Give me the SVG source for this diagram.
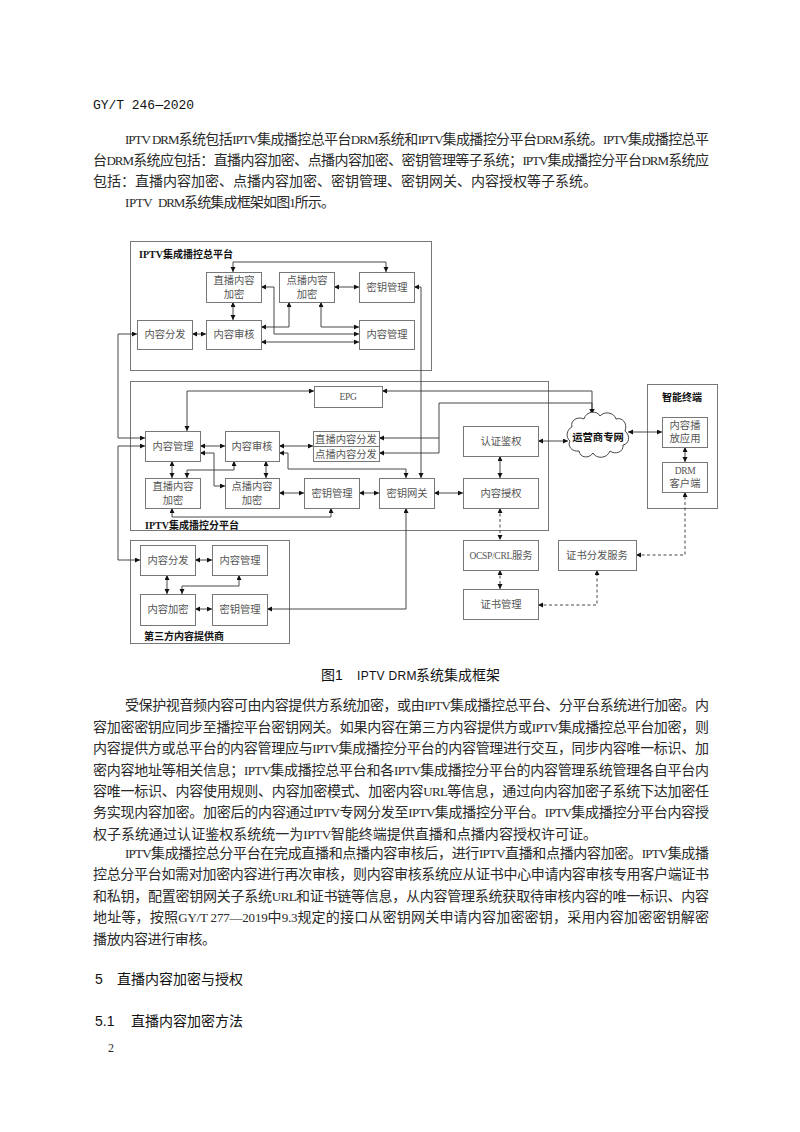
<svg xmlns="http://www.w3.org/2000/svg" width="800" height="1132" viewBox="0 0 800 1132">
<style>
text{font-family:"Liberation Serif","Noto Sans CJK SC",serif;fill:#222}
.b{font-size:14px;fill:#2a2a2a}
.m{font-size:13px;letter-spacing:-.4px}
.h{font-family:"Liberation Sans","Noto Sans CJK SC",sans-serif;font-size:14px;fill:#111}
.n{font-size:10.300px;text-anchor:middle;fill:#555}
.k{font-size:9.500px;letter-spacing:-.3px}
.l{font-size:10px;font-weight:700;fill:#111}
rect{fill:#fff;stroke:#777;stroke-width:1}
.c{fill:none;stroke:#333;stroke-width:.9;marker-start:url(#a);marker-end:url(#a)}
.d{stroke-dasharray:3 2.5}
.t{fill:none;stroke:#333;stroke-width:.9}
.o{marker-start:none}
.e{marker-end:none}
</style>
<defs>
<marker id="a" markerUnits="userSpaceOnUse" markerWidth="6" markerHeight="6" refX="5" refY="2.5" orient="auto-start-reverse"><path d="M0,0L5,2.500L0,5Z" fill="#111"/></marker>
</defs>
<rect width="800" height="1132" style="fill:#fff;stroke:none"/>
<g id="page-text">
<text x="93" y="109" textLength="101" style="font-family:'Liberation Mono','Noto Sans CJK SC',monospace;font-size:13px;fill:#111">GY/T 246—2020</text>
<text class="b" x="125" y="144" textLength="584"><tspan class="m">IPTV DRM</tspan>系统包括<tspan class="m">IPTV</tspan>集成播控总平台<tspan class="m">DRM</tspan>系统和<tspan class="m">IPTV</tspan>集成播控分平台<tspan class="m">DRM</tspan>系统。<tspan class="m">IPTV</tspan>集成播控总平</text>
<text class="b" x="93" y="165" textLength="616">台<tspan class="m">DRM</tspan>系统应包括：直播内容加密、点播内容加密、密钥管理等子系统；<tspan class="m">IPTV</tspan>集成播控分平台<tspan class="m">DRM</tspan>系统应</text>
<text class="b" x="93" y="186" textLength="504">包括：直播内容加密、点播内容加密、密钥管理、密钥网关、内容授权等子系统。</text>
<text class="b" x="125" y="207"><tspan class="m">IPTV</tspan></text>
<text class="b" x="158" y="207" textLength="177"><tspan class="m">DRM</tspan>系统集成框架如图<tspan class="m">1</tspan>所示。</text>
<text class="h" x="321" y="680">图1</text>
<text class="h" x="357" y="680" style="font-size:12px;letter-spacing:.3px">IPTV DRM</text>
<text class="h" x="416" y="680" textLength="84">系统集成框架</text>
<text class="b" x="125" y="710" textLength="584">受保护视音频内容可由内容提供方系统加密，或由<tspan class="m">IPTV</tspan>集成播控总平台、分平台系统进行加密。内</text>
<text class="b" x="93" y="732" textLength="616">容加密密钥应同步至播控平台密钥网关。如果内容在第三方内容提供方或<tspan class="m">IPTV</tspan>集成播控总平台加密，则</text>
<text class="b" x="93" y="753" textLength="616">内容提供方或总平台的内容管理应与<tspan class="m">IPTV</tspan>集成播控分平台的内容管理进行交互，同步内容唯一标识、加</text>
<text class="b" x="93" y="775" textLength="616">密内容地址等相关信息；<tspan class="m">IPTV</tspan>集成播控总平台和各<tspan class="m">IPTV</tspan>集成播控分平台的内容管理系统管理各自平台内</text>
<text class="b" x="93" y="796" textLength="616">容唯一标识、内容使用规则、内容加密模式、加密内容<tspan class="m">URL</tspan>等信息，通过向内容加密子系统下达加密任</text>
<text class="b" x="93" y="817" textLength="616">务实现内容加密。加密后的内容通过<tspan class="m">IPTV</tspan>专网分发至<tspan class="m">IPTV</tspan>集成播控分平台。<tspan class="m">IPTV</tspan>集成播控分平台内容授</text>
<text class="b" x="93" y="839" textLength="504">权子系统通过认证鉴权系统统一为<tspan class="m">IPTV</tspan>智能终端提供直播和点播内容授权许可证。</text>
<text class="b" x="125" y="858" textLength="584"><tspan class="m">IPTV</tspan>集成播控总分平台在完成直播和点播内容审核后，进行<tspan class="m">IPTV</tspan>直播和点播内容加密。<tspan class="m">IPTV</tspan>集成播</text>
<text class="b" x="93" y="879" textLength="616">控总分平台如需对加密内容进行再次审核，则内容审核系统应从证书中心申请内容审核专用客户端证书</text>
<text class="b" x="93" y="901" textLength="616">和私钥，配置密钥网关子系统<tspan class="m">URL</tspan>和证书链等信息，从内容管理系统获取待审核内容的唯一标识、内容</text>
<text class="b" x="93" y="922" textLength="616">地址等，按照<tspan class="m">GY/T 277—2019</tspan>中<tspan class="m">9.3</tspan>规定的接口从密钥网关申请内容加密密钥，采用内容加密密钥解密</text>
<text class="b" x="93" y="944" textLength="123">播放内容进行审核。</text>
<text class="h" x="95" y="984">5</text>
<text class="h" x="117" y="984" textLength="126">直播内容加密与授权</text>
<text class="h" x="95" y="1026">5.1</text>
<text class="h" x="131" y="1026" textLength="112">直播内容加密方法</text>
<text class="b" x="108" y="1052" style="font-size:12px">2</text>
</g>
<g id="total-platform"><rect x="130.500" y="241.500" width="301" height="129"/><text class="l" x="139" y="258">IPTV集成播控总平台</text></g>
<g id="branch-platform"><rect x="130.500" y="381.500" width="418" height="149"/><text class="l" x="145" y="529">IPTV集成播控分平台</text></g>
<g id="third-party"><rect x="130.500" y="540.500" width="159" height="103"/><text class="l" x="144" y="640">第三方内容提供商</text></g>
<g id="terminal"><rect x="647.500" y="384.500" width="70" height="124"/><text class="l" x="682" y="401" text-anchor="middle">智能终端</text></g>
<g id="connectors">
<path class="c" d="M233,272V262H386V272"/>
<path class="c" d="M261,287H274V334H359"/>
<path class="c" d="M289,302V327H261"/>
<path class="c" d="M321,302V327H359"/>
<path class="c" d="M261,342H359"/>
<path class="c" d="M334,287H359"/>
<path class="c" d="M233,302V320"/>
<path class="c" d="M192,334H206"/>
<path class="c" d="M137,334H118V438H145"/>
<path class="c" d="M145,446H118V560H140"/>
<path class="c" d="M414,287H421V478"/>
<path class="c" d="M314,391H187V431"/>
<path class="c" d="M382,391H592V414"/>
<path class="c o" d="M439,403H592V414"/>
<path class="t" d="M439,403V453"/>
<path class="c e" d="M379,438H439"/>
<path class="c e" d="M379,453H439"/>
<path class="c" d="M200,446H225"/>
<path class="c" d="M279,446H313"/>
<path class="c" d="M200,453H214V486H225"/>
<path class="c" d="M279,453H288V469H406V478"/>
<path class="c" d="M172,461V478"/>
<path class="c" d="M234,461V470H187V478"/>
<path class="c" d="M266,461V478"/>
<path class="c" d="M279,493H304"/>
<path class="c" d="M359,493H379"/>
<path class="c" d="M172,508V517H331V508"/>
<path class="c" d="M434,493H463"/>
<path class="c" d="M406,508V609H267"/>
<path class="c" d="M195,560H212"/>
<path class="c" d="M167,575V594"/>
<path class="c" d="M239,575V586H182V594"/>
<path class="c" d="M195,609H212"/>
<path class="c" d="M538,441H568"/>
<path class="c" d="M500,456V478"/>
<path class="c" d="M628,432H662"/>
<path class="c" d="M685,447V462"/>
<path class="c d" d="M500,508V540"/>
<path class="c d" d="M500,570V589"/>
<path class="c d" d="M538,605H597V570"/>
<path class="c d" d="M636,555H685V492"/>
</g>
<g id="cloud">
<path d="M572,427C570,420 578,416 584,419C586,411 597,410 600,416C604,411 614,412 616,419C622,417 628,423 625,431C631,436 629,444 623,445C624,452 615,455 610,451C607,459 596,459 593,453C589,459 580,458 579,451C572,452 567,446 570,441C565,437 567,429 572,427Z" fill="#fff" stroke="#333" stroke-width=".9"/>
<text class="l" x="598" y="441" text-anchor="middle" style="font-size:10.300px">运营商专网</text>
</g>
<g id="n1"><rect x="206.500" y="272.500" width="55" height="30"/><text class="n" x="234" y="284">直播内容</text><text class="n" x="234" y="298">加密</text></g>
<g id="n2"><rect x="279.500" y="272.500" width="55" height="30"/><text class="n" x="307" y="284">点播内容</text><text class="n" x="307" y="298">加密</text></g>
<g id="n3"><rect x="359.500" y="272.500" width="55" height="30"/><text class="n" x="387" y="291">密钥管理</text></g>
<g id="n4"><rect x="137.500" y="320.500" width="55" height="29"/><text class="n" x="165" y="338">内容分发</text></g>
<g id="n5"><rect x="206.500" y="320.500" width="55" height="29"/><text class="n" x="234" y="338">内容审核</text></g>
<g id="n6"><rect x="359.500" y="320.500" width="55" height="29"/><text class="n" x="387" y="338">内容管理</text></g>
<g id="n7"><rect x="314.500" y="386.500" width="68" height="21"/><text class="n k" x="348" y="400">EPG</text></g>
<g id="n8"><rect x="145.500" y="431.500" width="55" height="30"/><text class="n" x="173" y="450">内容管理</text></g>
<g id="n9"><rect x="225.500" y="431.500" width="54" height="30"/><text class="n" x="252" y="450">内容审核</text></g>
<g id="n10"><rect x="313.500" y="431.500" width="66" height="15"/><text class="n" x="346" y="443">直播内容分发</text></g>
<g id="n11"><rect x="313.500" y="446.500" width="66" height="15"/><text class="n" x="346" y="458">点播内容分发</text></g>
<g id="n12"><rect x="145.500" y="478.500" width="55" height="30"/><text class="n" x="173" y="490">直播内容</text><text class="n" x="173" y="504">加密</text></g>
<g id="n13"><rect x="225.500" y="478.500" width="54" height="30"/><text class="n" x="252" y="490">点播内容</text><text class="n" x="252" y="504">加密</text></g>
<g id="n14"><rect x="304.500" y="478.500" width="55" height="30"/><text class="n" x="332" y="497">密钥管理</text></g>
<g id="n15"><rect x="379.500" y="478.500" width="55" height="30"/><text class="n" x="407" y="497">密钥网关</text></g>
<g id="n16"><rect x="463.500" y="426.500" width="75" height="30"/><text class="n" x="501" y="445">认证鉴权</text></g>
<g id="n17"><rect x="463.500" y="478.500" width="75" height="30"/><text class="n" x="501" y="497">内容授权</text></g>
<g id="n18"><rect x="662.500" y="417.500" width="45" height="30"/><text class="n" x="685" y="429">内容播</text><text class="n" x="685" y="442">放应用</text></g>
<g id="n19"><rect x="662.500" y="462.500" width="45" height="30"/><text class="n k" x="685" y="474">DRM</text><text class="n" x="685" y="487">客户端</text></g>
<g id="n20"><rect x="463.500" y="540.500" width="75" height="30"/><text class="n" x="501" y="559"><tspan class="k">OCSP/CRL</tspan>服务</text></g>
<g id="n21"><rect x="558.500" y="540.500" width="78" height="30"/><text class="n" x="597" y="559">证书分发服务</text></g>
<g id="n22"><rect x="463.500" y="589.500" width="75" height="30"/><text class="n" x="501" y="608">证书管理</text></g>
<g id="n23"><rect x="140.500" y="545.500" width="55" height="30"/><text class="n" x="168" y="564">内容分发</text></g>
<g id="n24"><rect x="212.500" y="545.500" width="55" height="30"/><text class="n" x="240" y="564">内容管理</text></g>
<g id="n25"><rect x="140.500" y="594.500" width="55" height="31"/><text class="n" x="168" y="613">内容加密</text></g>
<g id="n26"><rect x="212.500" y="594.500" width="55" height="31"/><text class="n" x="240" y="613">密钥管理</text></g>
</svg>
